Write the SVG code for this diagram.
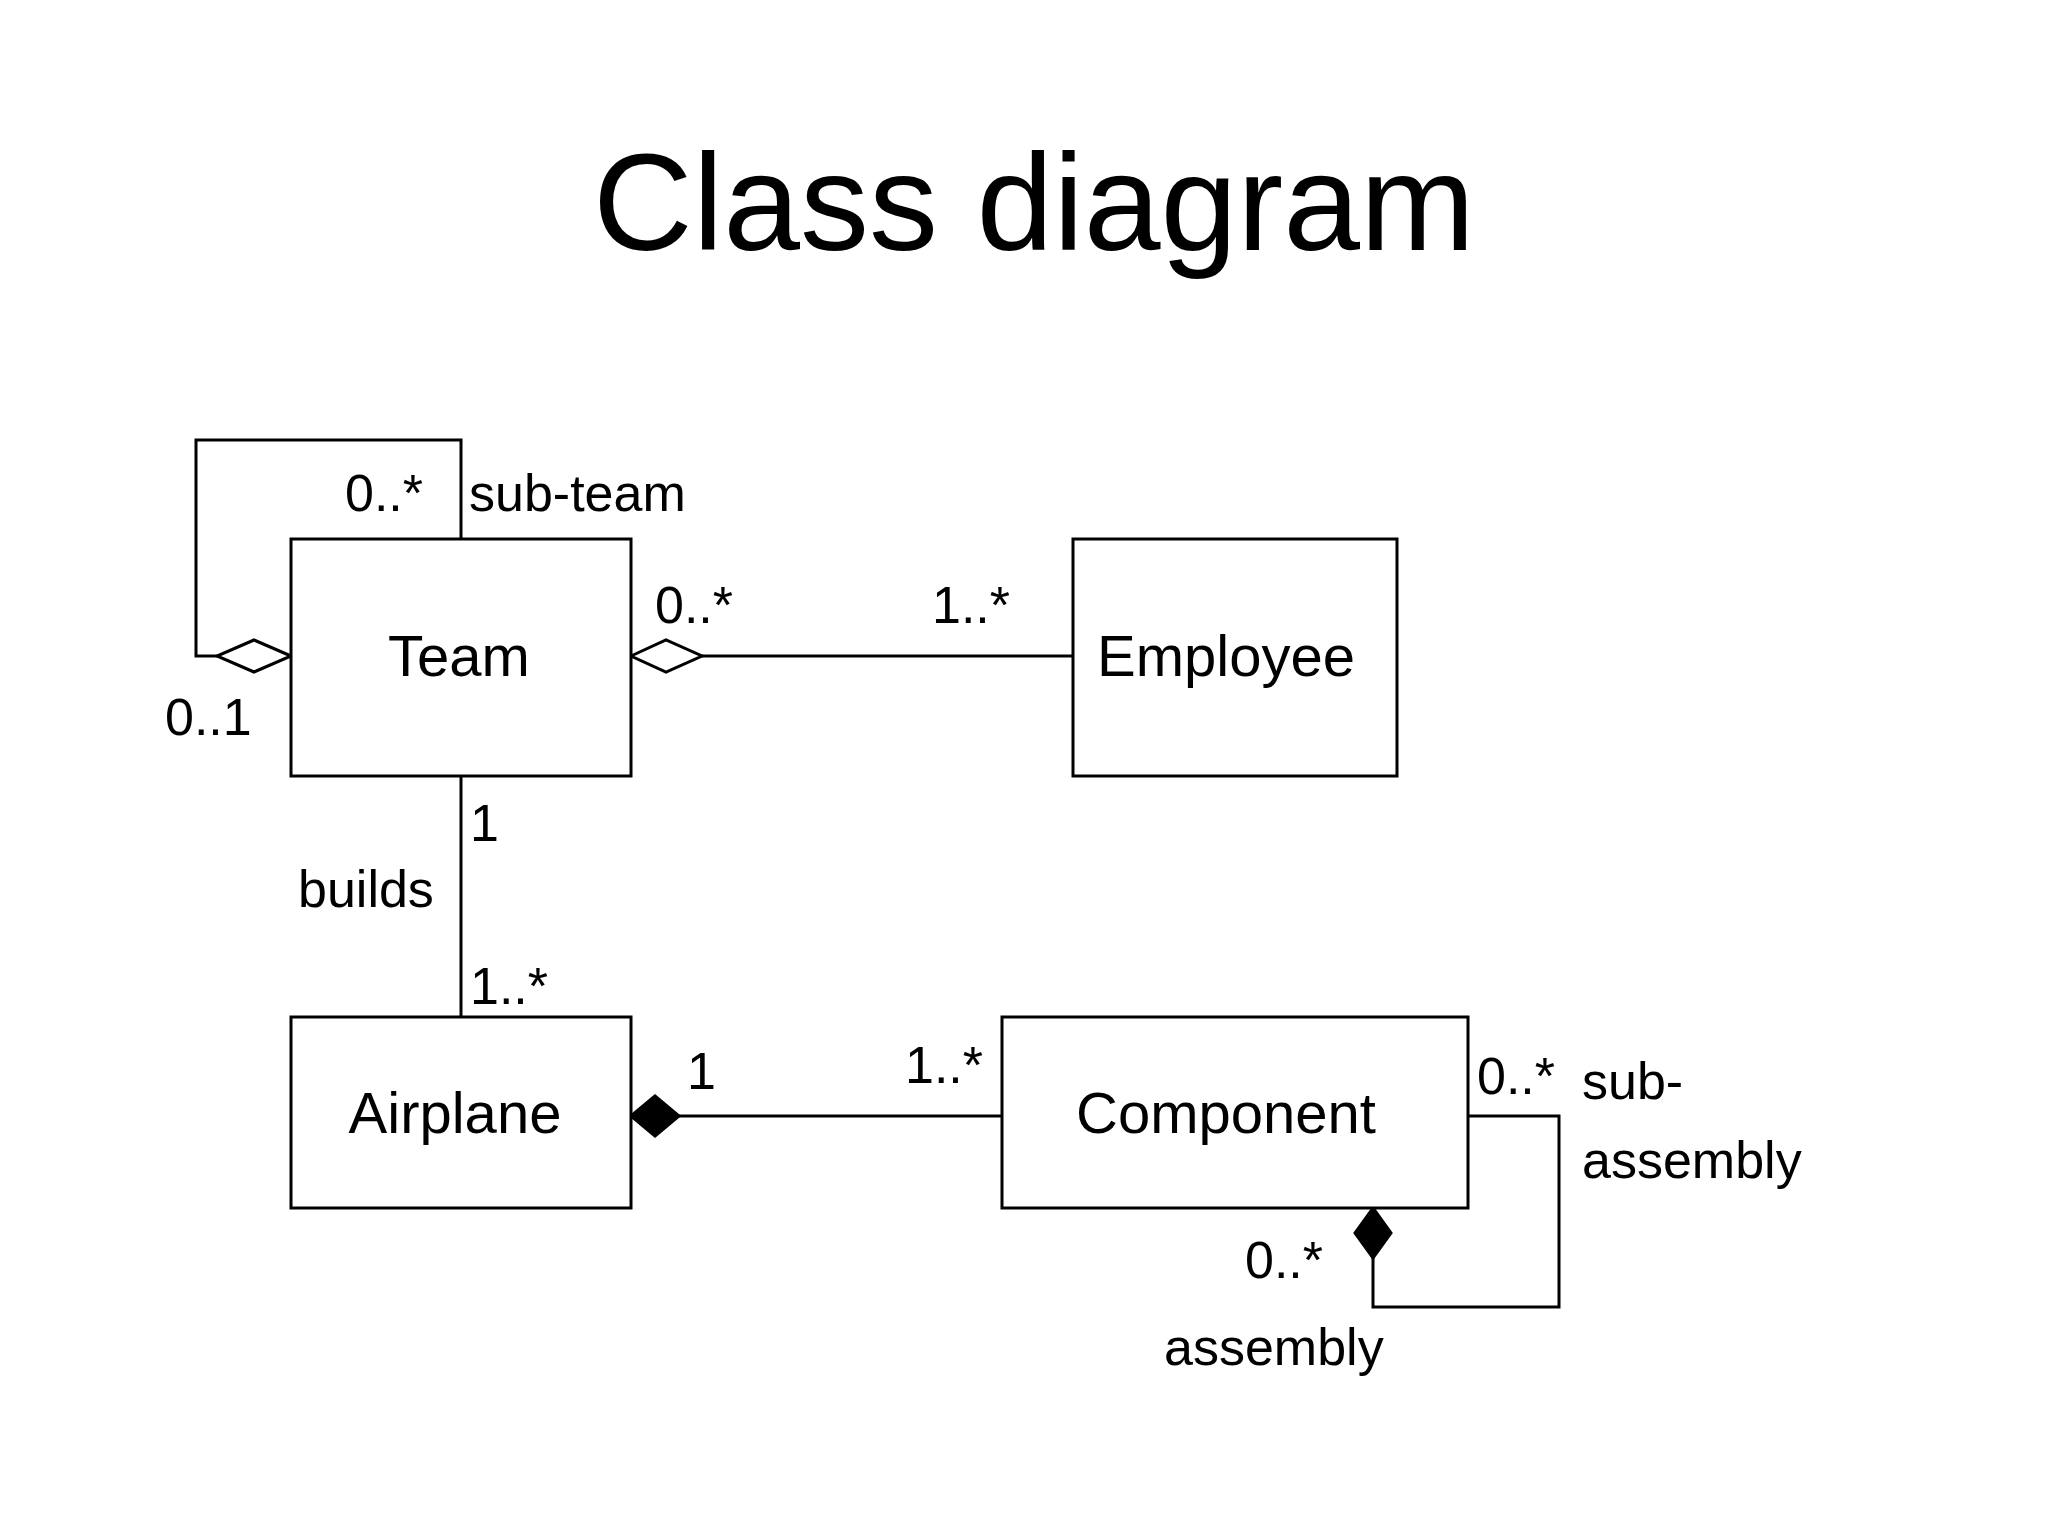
<svg xmlns="http://www.w3.org/2000/svg" width="2048" height="1536" viewBox="0 0 2048 1536">
<style>
.box{fill:#fff;stroke:#000;stroke-width:3}
.ln{fill:none;stroke:#000;stroke-width:3}
.od{fill:#fff;stroke:#000;stroke-width:3}
.fd{fill:#000;stroke:#000;stroke-width:3}
text{font-family:"Liberation Sans",Arial,sans-serif;fill:#000}
.n{font-size:58px;text-anchor:middle}
.l{font-size:52px}
</style>
<rect width="2048" height="1536" fill="#fff"/>
<text x="1034" y="250" font-size="138" text-anchor="middle">Class diagram</text>
<g id="connectors">
<polyline class="ln" points="461,539 461,440 196,440 196,656 217,656"/>
<polygon class="od" points="291,656 254,640 217,656 254,672"/>
<line class="ln" x1="702" y1="656" x2="1073" y2="656"/>
<polygon class="od" points="631,656 666,640 702,656 666,672"/>
<line class="ln" x1="461" y1="776" x2="461" y2="1017"/>
<line class="ln" x1="679" y1="1116" x2="1002" y2="1116"/>
<polygon class="fd" points="631,1116 655,1096 679,1116 655,1136"/>
<polyline class="ln" points="1468,1116 1559,1116 1559,1307 1373,1307 1373,1258"/>
<polygon class="fd" points="1373,1208 1391,1233 1373,1258 1355,1233"/>
</g>
<g id="team"><rect class="box" x="291" y="539" width="340" height="237"/><text class="n" x="459" y="676">Team</text></g>
<g id="employee"><rect class="box" x="1073" y="539" width="324" height="237"/><text class="n" x="1226" y="676">Employee</text></g>
<g id="airplane"><rect class="box" x="291" y="1017" width="340" height="191"/><text class="n" x="455" y="1133">Airplane</text></g>
<g id="component"><rect class="box" x="1002" y="1017" width="466" height="191"/><text class="n" x="1226" y="1133">Component</text></g>
<g id="labels" class="l">
<text class="l" x="345" y="511">0..*</text>
<text class="l" x="469" y="511">sub-team</text>
<text class="l" x="165" y="735">0..1</text>
<text class="l" x="655" y="623">0..*</text>
<text class="l" x="932" y="623">1..*</text>
<text class="l" x="470" y="841">1</text>
<text class="l" x="298" y="907">builds</text>
<text class="l" x="470" y="1004">1..*</text>
<text class="l" x="687" y="1089">1</text>
<text class="l" x="905" y="1083">1..*</text>
<text class="l" x="1477" y="1094">0..*</text>
<text class="l" x="1582" y="1099">sub-</text>
<text class="l" x="1582" y="1178">assembly</text>
<text class="l" x="1245" y="1278">0..*</text>
<text class="l" x="1164" y="1365">assembly</text>
</g>
</svg>
